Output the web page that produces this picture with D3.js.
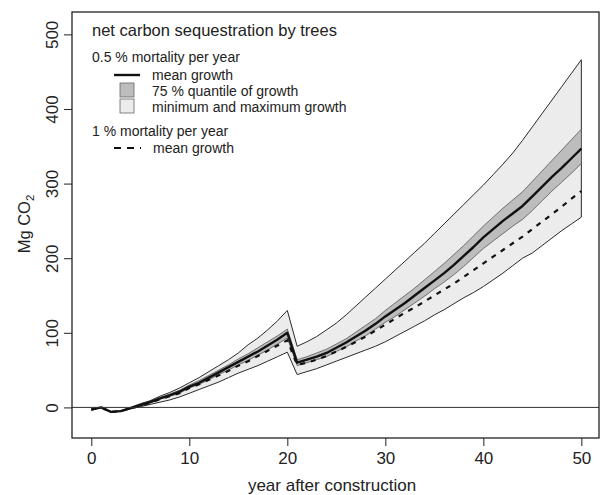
<!DOCTYPE html>
<html>
<head>
<meta charset="utf-8">
<script src="https://cdn.jsdelivr.net/npm/d3@7"></script>
<style>
  body { margin: 0; background: #fff; }
  svg text { font-family: "Liberation Sans", Arial, sans-serif; fill: #222; }
</style>
</head>
<body>
<div id="chart"></div>
<script>
// years after construction
const years = d3.range(0, 51);

// 0.5 % mortality: minimum / maximum growth envelope
const minGrowth = [-3, 0, -6, -5, -2, 1, 4, 7, 10, 14, 19, 24, 29, 34, 40, 46, 51, 56, 62, 68, 74,
  44, 48, 52, 57, 62, 67, 72, 77, 82, 88, 95, 102, 109, 116, 124, 131, 139, 147, 154, 162,
  171, 180, 190, 200, 207, 217, 227, 237, 246, 255];
const maxGrowth = [-3, 0, -6, -5, 0, 5, 9, 15, 20, 26, 33, 40, 48, 56, 64, 73, 84, 93, 104, 116, 130,
  82, 88, 95, 104, 113, 124, 136, 148, 160, 172, 184, 196, 208, 220, 233, 246, 259, 272, 285, 298,
  312, 326, 341, 358, 376, 394, 412, 430, 448, 466];

// 0.5 % mortality: 75 % quantile of growth
const qLow = [-3, 0, -6, -5, -1, 2, 6, 11, 15, 19, 26, 31, 37, 44, 50, 57, 63, 70, 77, 85, 93,
  56, 60, 64, 68, 75, 81, 89, 96, 105, 114, 122, 131, 140, 149, 159, 168, 178, 189, 201, 213,
  223, 233, 243, 252, 264, 277, 290, 302, 314, 327];
const qHigh = [-3, 0, -6, -5, -1, 4, 8, 13, 18, 23, 30, 36, 43, 50, 57, 65, 72, 80, 88, 96, 105,
  64, 68, 73, 78, 85, 92, 101, 110, 119, 130, 140, 150, 160, 171, 182, 193, 205, 217, 230, 243,
  255, 267, 278, 289, 303, 317, 331, 345, 359, 373];

// mean growth, 0.5 % and 1 % mortality
const meanHalf = [-3, 0, -6, -5, -1, 3, 7, 12, 16, 21, 28, 33, 40, 47, 54, 61, 68, 75, 83, 91, 100,
  60, 64, 68, 73, 80, 87, 95, 103, 112, 122, 131, 140, 150, 160, 170, 180, 191, 203, 215, 228,
  239, 250, 260, 270, 283, 296, 309, 321, 334, 347];
const meanOne = [-3, 0, -6, -5, -1, 2, 6, 11, 15, 19, 26, 31, 37, 43, 49, 56, 62, 69, 76, 83, 90,
  57, 60, 64, 69, 75, 81, 88, 95, 103, 111, 119, 127, 134, 142, 150, 158, 166, 175, 184, 193,
  202, 211, 220, 229, 239, 249, 259, 269, 280, 290];

const xTicks = [0, 10, 20, 30, 40, 50];
const yTicks = [0, 100, 200, 300, 400, 500];

const width = 602, height = 495;
const m = {top: 12, right: 3, bottom: 57, left: 72};

const svg = d3.select("#chart").append("svg")
  .attr("width", width).attr("height", height);

const x = d3.scaleLinear().domain([-1.97, 51.8]).range([m.left, width - m.right]);
const y = d3.scaleLinear().domain([-41, 530]).range([height - m.bottom, m.top]);

const rows = years.map((yr, i) => ({
  yr, lo: minGrowth[i], hi: maxGrowth[i], ql: qLow[i], qh: qHigh[i],
  m1: meanHalf[i], m2: meanOne[i]
}));

svg.append("clipPath").attr("id", "plotclip").append("rect")
  .attr("x", m.left).attr("y", m.top)
  .attr("width", width - m.left - m.right).attr("height", height - m.top - m.bottom);

const plot = svg.append("g").attr("clip-path", "url(#plotclip)");

// min/max envelope
plot.append("path")
  .datum(rows)
  .attr("fill", "#ececec")
  .attr("stroke", "#2a2a2a")
  .attr("stroke-width", 1)
  .attr("d", d3.area().x(d => x(d.yr)).y0(d => y(d.lo)).y1(d => y(d.hi)));

// 75 % quantile
plot.append("path")
  .datum(rows)
  .attr("fill", "#bdbdbd")
  .attr("stroke", "#555")
  .attr("stroke-width", 0.8)
  .attr("d", d3.area().x(d => x(d.yr)).y0(d => y(d.ql)).y1(d => y(d.qh)));

// 1 % mortality mean (dashed)
plot.append("path")
  .datum(rows)
  .attr("fill", "none")
  .attr("stroke", "#111")
  .attr("stroke-width", 2.2)
  .attr("stroke-dasharray", "5,6")
  .attr("d", d3.line().x(d => x(d.yr)).y(d => y(d.m2)));

// 0.5 % mortality mean
plot.append("path")
  .datum(rows)
  .attr("fill", "none")
  .attr("stroke", "#111")
  .attr("stroke-width", 2.4)
  .attr("stroke-linejoin", "round")
  .attr("d", d3.line().x(d => x(d.yr)).y(d => y(d.m1)));

// zero line
plot.append("line")
  .attr("x1", m.left).attr("x2", width - m.right)
  .attr("y1", y(0)).attr("y2", y(0))
  .attr("stroke", "#333").attr("stroke-width", 1);

// Frame
svg.append("rect")
  .attr("x", m.left).attr("y", m.top)
  .attr("width", width - m.left - m.right).attr("height", height - m.top - m.bottom)
  .attr("fill", "none").attr("stroke", "#222").attr("stroke-width", 1.3);

// Axes (R-like)
const xAxis = svg.append("g")
  .attr("transform", `translate(0,${height - m.bottom})`)
  .call(d3.axisBottom(x).tickValues(xTicks).tickSize(8).tickPadding(6).tickSizeOuter(0));
xAxis.select(".domain").remove();
xAxis.selectAll("line").attr("stroke", "#222");
xAxis.selectAll("text").style("font-size", "17px").attr("fill", "#222");

const yAxis = svg.append("g")
  .attr("transform", `translate(${m.left},0)`)
  .call(d3.axisLeft(y).tickValues(yTicks).tickSize(8).tickSizeOuter(0));
yAxis.select(".domain").remove();
yAxis.selectAll("line").attr("stroke", "#222");
yAxis.selectAll("text")
  .style("font-size", "17px")
  .attr("fill", "#222")
  .attr("x", null).attr("dy", null)
  .attr("text-anchor", "middle")
  .attr("transform", "translate(-14,0) rotate(-90)");

// Axis titles
svg.append("text")
  .attr("x", 332)
  .attr("y", 491)
  .attr("text-anchor", "middle")
  .style("font-size", "17px")
  .text("year after construction");

const yt = svg.append("text")
  .attr("transform", `translate(30,224) rotate(-90)`)
  .attr("text-anchor", "middle")
  .style("font-size", "16.5px");
yt.append("tspan").text("Mg CO");
yt.append("tspan").attr("dy", 4).style("font-size", "11.5px").text("2");

// Legend
const lg = svg.append("g");
lg.append("text").attr("x", 92).attr("y", 36).style("font-size", "16.5px")
  .text("net carbon sequestration by trees");
lg.append("text").attr("x", 92).attr("y", 62).style("font-size", "14px")
  .text("0.5 % mortality per year");

lg.append("line").attr("x1", 114).attr("x2", 140).attr("y1", 75).attr("y2", 75)
  .attr("stroke", "#111").attr("stroke-width", 2.4);
lg.append("text").attr("x", 152).attr("y", 79.5).style("font-size", "14px").text("mean growth");

lg.append("rect").attr("x", 120).attr("y", 83).attr("width", 14).attr("height", 14)
  .attr("fill", "#bdbdbd").attr("stroke", "#666").attr("stroke-width", 0.8);
lg.append("text").attr("x", 152).attr("y", 96).style("font-size", "14px").text("75 % quantile of growth");

lg.append("rect").attr("x", 120).attr("y", 99).attr("width", 14).attr("height", 14)
  .attr("fill", "#ececec").attr("stroke", "#666").attr("stroke-width", 0.8);
lg.append("text").attr("x", 152).attr("y", 112).style("font-size", "14px").text("minimum and maximum growth");

lg.append("text").attr("x", 92).attr("y", 136).style("font-size", "14px")
  .text("1 % mortality per year");
lg.append("line").attr("x1", 114).attr("x2", 141).attr("y1", 148).attr("y2", 148)
  .attr("stroke", "#111").attr("stroke-width", 2.2).attr("stroke-dasharray", "7,6");
lg.append("text").attr("x", 153).attr("y", 152.5).style("font-size", "14px").text("mean growth");
</script>
</body>
</html>
